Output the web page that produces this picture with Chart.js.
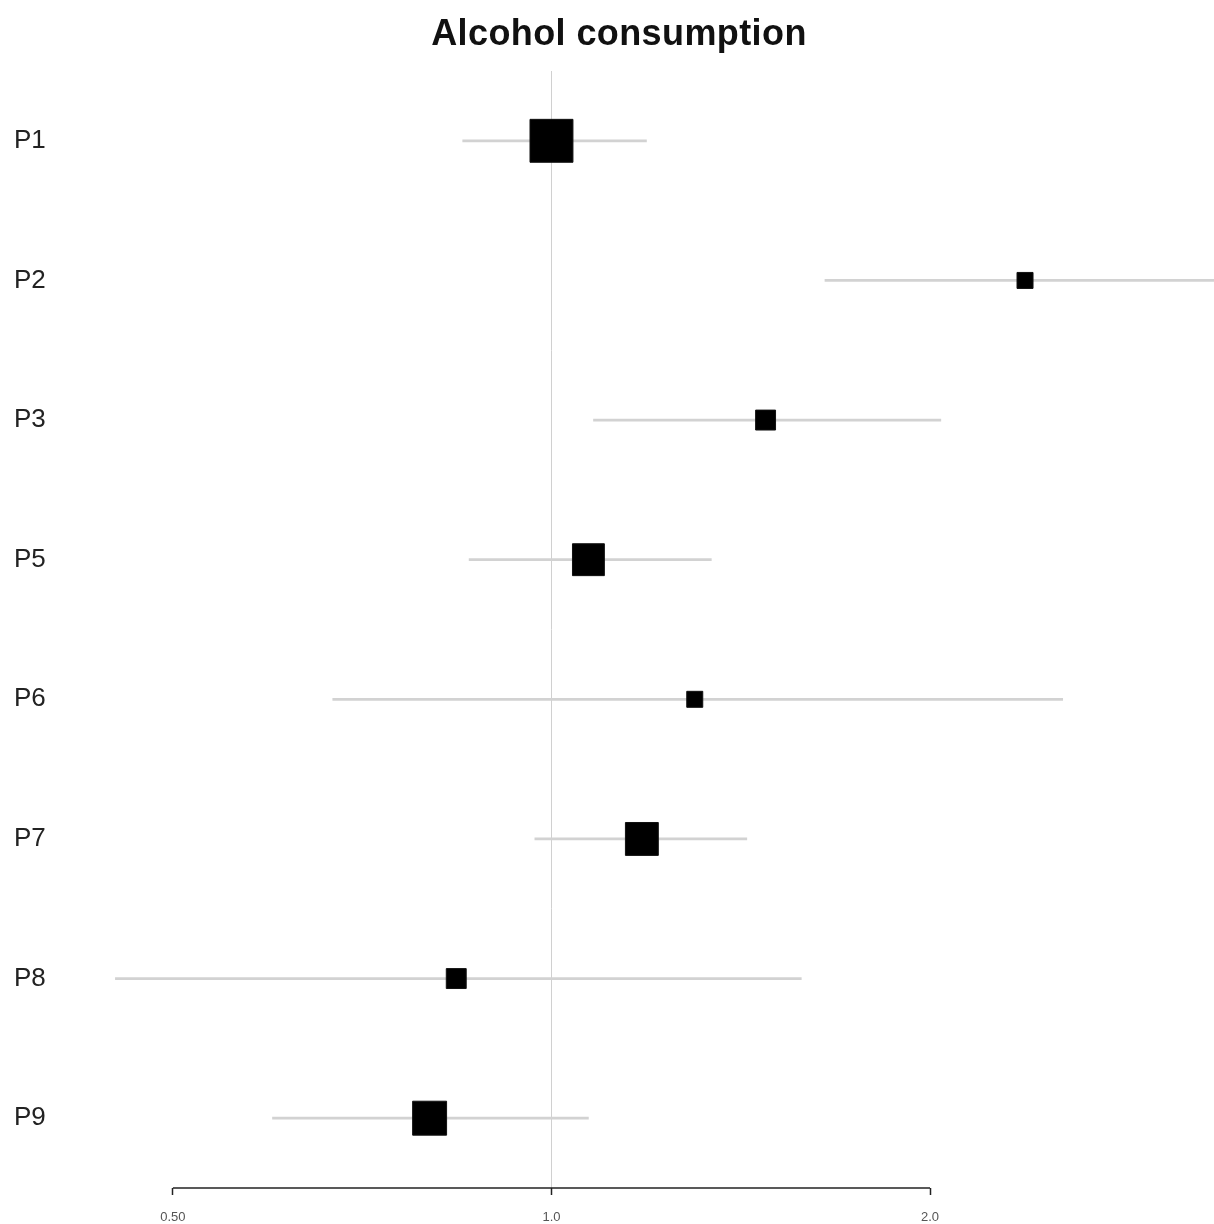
<!DOCTYPE html>
<html>
<head>
<meta charset="utf-8">
<script src="https://cdn.jsdelivr.net/npm/chart.js@4/dist/chart.umd.min.js"></script>
<style>
  html, body { margin: 0; padding: 0; background: #ffffff; overflow: hidden; }
  #wrap { position: relative; width: 1214px; height: 1224px; }
  canvas { display: block; }
</style>
</head>
<body>
<div id="wrap"><canvas id="c"></canvas></div>
<script>
// ---- data ----
const chartTitle = 'Alcohol consumption';
const studies   = ['P1', 'P2', 'P3', 'P5', 'P6', 'P7', 'P8', 'P9'];
const estimates = [1.00, 2.38, 1.48, 1.07, 1.30, 1.18, 0.84, 0.80];
const lowerCI   = [0.85, 1.65, 1.08, 0.86, 0.67, 0.97, 0.45, 0.60];
const upperCI   = [1.19, 3.40, 2.04, 1.34, 2.55, 1.43, 1.58, 1.07];
const weights   = [28.8, 4.0, 6.2, 15.9, 4.0, 16.9, 6.2, 18.0]; // relative study weight (%)
const tickValues = [0.5, 1, 2];
const tickLabels = ['0.50', '1.0', '2.0'];

const boxRadius = weights.map(w => 8 * Math.sqrt(w) / Math.SQRT2);

const titlePlugin = {
  id: 'customTitle',
  afterDraw(chart) {
    const ctx = chart.ctx;
    ctx.save();
    ctx.font = 'bold 36px "Liberation Sans", Arial, sans-serif';
    try { ctx.letterSpacing = '0.4px'; } catch (e) {}
    ctx.fillStyle = '#111';
    ctx.textAlign = 'center';
    ctx.textBaseline = 'middle';
    ctx.fillText(chartTitle, 619, 35);
    ctx.restore();
  }
};

const axisLinePlugin = {
  id: 'axisLine',
  afterDraw(chart) {
    const xs = chart.scales.x;
    const ctx = chart.ctx;
    const x0 = xs.getPixelForValue(tickValues[0]);
    const x1 = xs.getPixelForValue(tickValues[tickValues.length - 1]);
    ctx.save();
    ctx.strokeStyle = '#222';
    ctx.lineWidth = 1.5;
    ctx.beginPath();
    ctx.moveTo(x0, xs.top);
    ctx.lineTo(x1, xs.top);
    ctx.stroke();
    ctx.restore();
  }
};

new Chart(document.getElementById('c'), {
  type: 'bar',
  data: {
    labels: studies,
    datasets: [
      {
        type: 'scatter',
        label: 'Estimate',
        data: studies.map((s, i) => ({ x: estimates[i], y: s })),
        pointStyle: 'rect',
        pointRadius: boxRadius,
        pointHoverRadius: boxRadius,
        backgroundColor: '#000',
        borderColor: '#111',
        borderWidth: 1,
        order: 0
      },
      {
        type: 'bar',
        label: '95% CI',
        indexAxis: 'y',
        data: studies.map((s, i) => [lowerCI[i], upperCI[i]]),
        backgroundColor: '#d2d2d2',
        borderWidth: 0,
        barThickness: 2,
        order: 1
      }
    ]
  },
  options: {
    indexAxis: 'y',
    responsive: true,
    maintainAspectRatio: false,
    animation: false,
    layout: { autoPadding: false, padding: { top: 71, left: 14, right: 0, bottom: 1 } },
    plugins: {
      legend: { display: false },
      tooltip: { enabled: false },
      title: { display: false }
    },
    scales: {
      x: {
        type: 'logarithmic',
        position: 'bottom',
        min: 0.4375,
        max: 3.364,
        afterBuildTicks(scale) {
          scale.ticks = tickValues.map(v => ({ value: v }));
        },
        afterFit(scale) { scale.height = 35; },
        ticks: {
          autoSkip: false,
          maxRotation: 0,
          padding: 15,
          color: '#555',
          font: { size: 13, family: '"Liberation Sans", Arial, sans-serif' },
          callback(value) {
            const i = tickValues.indexOf(value);
            return i >= 0 ? tickLabels[i] : '';
          }
        },
        grid: {
          drawOnChartArea: true,
          color: (ctx) => (ctx.tick && ctx.tick.value === 1 ? '#d0d0d0' : 'rgba(0,0,0,0)'),
          lineWidth: 1,
          tickColor: '#222',
          tickWidth: 1.5,
          tickLength: 7
        },
        border: { display: false }
      },
      y: {
        type: 'category',
        position: 'left',
        offset: true,
        afterFit(scale) { scale.width = 86; },
        ticks: {
          crossAlign: 'far',
          color: '#222',
          font: { size: 26, family: '"Liberation Sans", Arial, sans-serif' }
        },
        grid: { display: false },
        border: { display: false }
      }
    }
  },
  plugins: [titlePlugin, axisLinePlugin]
});
</script>
</body>
</html>
